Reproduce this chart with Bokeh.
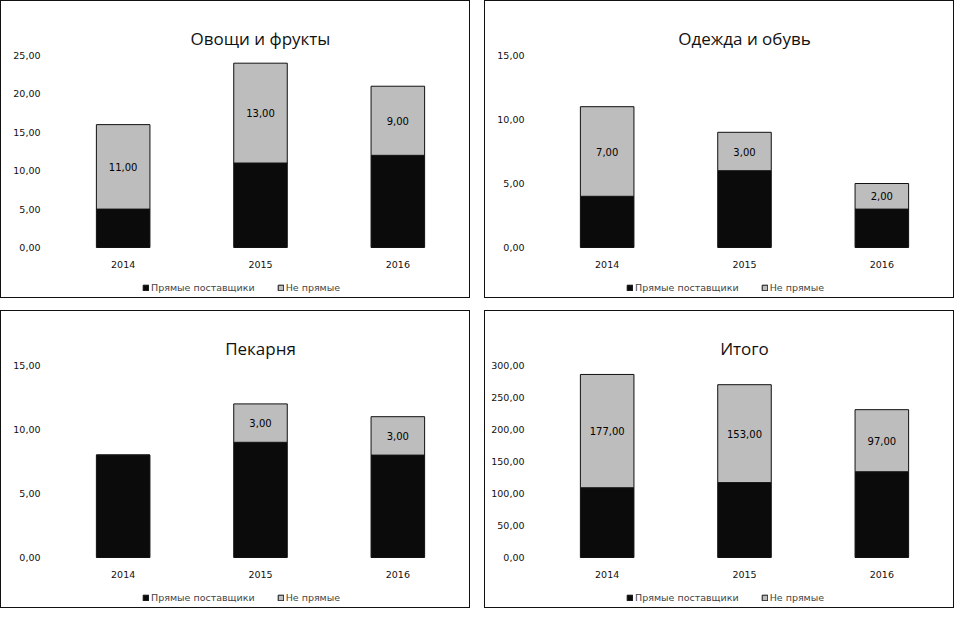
from bokeh.plotting import figure
from bokeh.models import (ColumnDataSource, FactorRange, Range1d, FixedTicker,
                          CustomJSTickFormatter, Legend, LegendItem)
from bokeh.layouts import column, row
from bokeh.embed import file_html
from bokeh.resources import INLINE
from bokeh.core.properties import value

years = ["2014", "2015", "2016"]
series_names = ["Прямые поставщики", "Не прямые"]

titles = ["Овощи и фрукты", "Одежда и обувь", "Пекарня", "Итого"]
direct = [
    [5, 11, 12],
    [4, 6, 3],
    [8, 9, 8],
    [109, 117, 134],
]
indirect = [
    [11, 13, 9],
    [7, 3, 2],
    [0, 3, 3],
    [177, 153, 97],
]
y_max = [25, 15, 15, 300]
y_step = [5, 5, 5, 50]

DARK = "#0b0b0b"
LIGHT = "#bdbdbd"
TICK_FONT = "DejaVu Sans"

FIG_H = 298
TOP = 54
BOTTOM = 4
PLOT_PX = 192            # pixels between 0 and the top tick
EXTRA_PX = FIG_H - TOP - BOTTOM - PLOT_PX   # room under zero for years + legend


def make_panel(i):
    ymax = y_max[i]
    per_px = ymax / PLOT_PX
    p = figure(width=470, height=FIG_H, x_range=FactorRange(*years),
               y_range=Range1d(-EXTRA_PX * per_px, ymax), output_backend="svg",
               toolbar_location=None, x_axis_location=None,
               min_border_left=53, min_border_right=5,
               min_border_top=TOP, min_border_bottom=BOTTOM)
    p.title.text = titles[i]
    p.title.align = "center"
    p.title.text_font = "Open Sans"
    p.title.text_font_style = "normal"
    p.title.text_font_size = "17px"
    p.title.text_color = "#111111"
    p.title.standoff = 11
    p.outline_line_color = None
    p.styles = {"border": "1.5px solid #111"}

    src = ColumnDataSource(dict(year=years, direct=direct[i], indirect=indirect[i]))
    r = p.vbar_stack(["direct", "indirect"], x="year", width=0.39, source=src,
                     color=[DARK, LIGHT], line_color="#111111", line_width=1)

    # value labels inside the light segment
    lx, ly, lt = [], [], []
    for y, d, v in zip(years, direct[i], indirect[i]):
        if v > 0:
            lx.append(y)
            ly.append(d + v / 2)
            lt.append(("%.2f" % v).replace(".", ","))
    lsrc = ColumnDataSource(dict(x=lx, y=ly, t=lt))
    p.text(x="x", y="y", text="t", source=lsrc, text_align="center",
           text_baseline="middle", text_font=value(TICK_FONT),
           text_font_size="10px", text_color="#000000")

    # category labels under the bars
    ysrc = ColumnDataSource(dict(x=years, y=[-17 * per_px] * len(years), t=years))
    p.text(x="x", y="y", text="t", source=ysrc, text_align="center",
           text_baseline="middle", text_font=value(TICK_FONT),
           text_font_size="9.5px", text_color="#111111")

    ticks = list(range(0, ymax + 1, y_step[i]))
    ax = p.yaxis[0]
    ax.ticker = FixedTicker(ticks=ticks)
    ax.formatter = CustomJSTickFormatter(
        code="return tick.toFixed(2).replace('.', ',');")
    ax.axis_line_color = None
    ax.major_tick_line_color = None
    ax.minor_tick_line_color = None
    ax.major_label_text_font = TICK_FONT
    ax.major_label_text_font_size = "9.5px"
    ax.major_label_text_color = "#111111"
    ax.major_label_standoff = 8
    p.xgrid.grid_line_color = None
    p.ygrid.grid_line_color = None

    legend = Legend(items=[LegendItem(label=series_names[0], renderers=[r[0]]),
                           LegendItem(label=series_names[1], renderers=[r[1]])],
                    orientation="horizontal", location=(88, 2),
                    label_text_font=TICK_FONT, label_text_font_size="9.5px",
                    glyph_width=7, glyph_height=7, spacing=22, padding=2,
                    label_standoff=2, border_line_color=None,
                    background_fill_alpha=0)
    p.add_layout(legend)
    return p


panels = [make_panel(i) for i in range(4)]
layout = column(row(panels[0], panels[1], spacing=14),
                row(panels[2], panels[3], spacing=14), spacing=12)

open("out.html", "w").write(file_html(layout, INLINE))
